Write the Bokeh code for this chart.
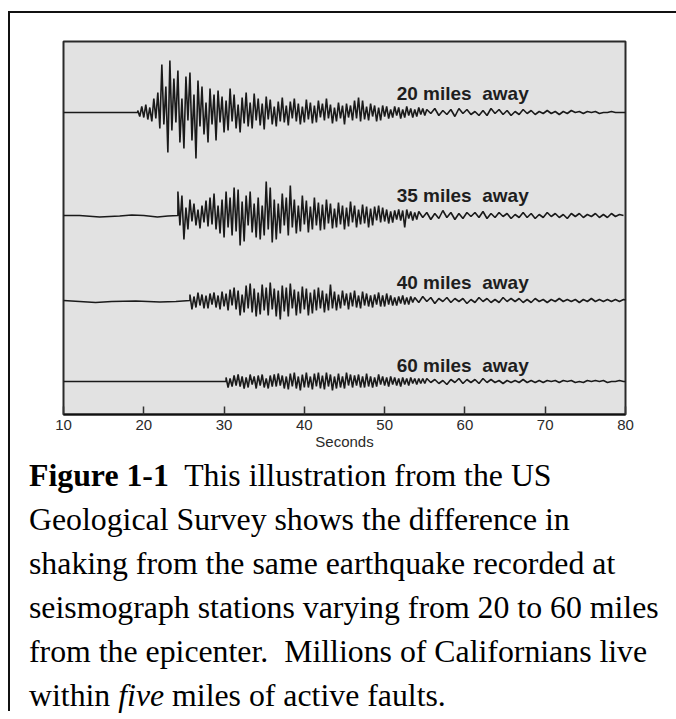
from bokeh.plotting import figure
from bokeh.models import Range1d, FixedTicker, Div
from bokeh.layouts import column
from bokeh.embed import file_html
from bokeh.resources import INLINE
from bokeh.core.properties import value

# ---------------- data ----------------
TICKS = [10, 20, 30, 40, 50, 60, 70, 80]
TICK_LABELS = ["10", "20", "30", "40", "50", "60", "70", "80"]
STATIONS = ["20 miles\u00a0 away", "35 miles\u00a0 away", "40 miles\u00a0 away", "60 miles\u00a0 away"]

# quiet part before the first arrival (seconds, amplitude)
PRE_T_20 = [10, 19.25]
PRE_V_20 = [0, 0]
PRE_T_35 = [10, 12, 14.5, 17, 18.5, 20, 21.7, 23, 24.25]
PRE_V_35 = [0, 0, -1.5, -0.5, 0.5, 0, -1.5, -0.5, 0]
PRE_T_40 = [10, 12, 14, 16, 19, 22, 24, 25.75]
PRE_V_40 = [0, -1, -2, -1, -0.5, -1.5, -1, 0]
PRE_T_60 = [10, 30.25]
PRE_V_60 = [0, 0]

# first arrival (seconds)
ONSET_20 = 19.25
ONSET_35 = 24.25
ONSET_40 = 25.75
ONSET_60 = 30.25

# strong shaking, one reading every 0.25 s
BURST_20 = [
    2, -4, 6, -5, 8, -7, 5, -9,
    14, -6, 20, -16, 48, -12, 26, -40,
    52, -18, 34, -10, 42, -30, 14, -36,
    36, -8, 40, -28, 18, -46, 32, -14,
    26, -22, 10, -30, 24, -12, 18, -28,
    22, -10, 16, -20, 12, -18, 24, -9,
    18, -16, 8, -20, 15, -11, 20, -14,
    10, -16, 19, -8, 14, -13, 9, -17,
    16, -7, 13, -12, 6, -14, 11, -9,
    15, -10, 7, -13, 11, -6, 14, -9,
    9, -12, 6, -10, 13, -7, 10, -11,
    7, -10, 12, -5, 9, -8, 14, -6,
    8, -11, 5, -9, 10, -6, 7, -12,
    9, -5, 7, -8, 12, -6, 15, -9,
    12, -7, 6, -8, 9, -4, 7, -9,
    5, -8, 7, -4, 6, -6, 3, -5,
    6, -3, 5, -6, 3, -5, 6, -3,
    4, -5, 3, -4, 5, -2, 4, -3,
]
BURST_35 = [
    24, -10, 20, -24, 8, -14, 16, -6,
    12, -10, 6, -13, 10, -7, 15, -11,
    18, -9, 22, -14, 10, -18, 16, -22,
    24, -12, 18, -20, 28, -16, 26, -30,
    14, -26, 20, -10, 24, -17, 12, -22,
    18, -24, 10, -20, 34, -14, 28, -27,
    16, -24, 12, -18, 22, -10, 18, -20,
    30, -12, 16, -18, 10, -16, 20, -9,
    15, -17, 9, -14, 18, -10, 13, -15,
    11, -14, 16, -8, 12, -13, 7, -12,
    13, -9, 10, -14, 8, -11, 14, -7,
    10, -12, 6, -9, 11, -8, 9, -12,
    7, -10, 9, -5, 10, -7, 8, -6,
    6, -8, 4, -7, 5, -4, 6, -5,
    5, -12, 6, -3, 4, -5, 3, -4,
]
BURST_40 = [
    6, -9, 4, -7, 8, -5, 6, -8,
    5, -8, 7, -4, 8, -7, 5, -9,
    9, -6, 7, -10, 11, -5, 13, -9,
    10, -15, 6, -12, 15, -8, 17, -12,
    12, -16, 8, -14, 16, -10, 13, -15,
    18, -9, 12, -16, 10, -19, 15, -11,
    13, -16, 17, -8, 11, -15, 9, -13,
    14, -9, 12, -15, 8, -13, 11, -10,
    13, -8, 10, -12, 7, -10, 16, -8,
    9, -10, 6, -8, 10, -5, 7, -9,
    8, -6, 10, -7, 5, -8, 9, -5,
    7, -6, 5, -7, 6, -4, 8, -6,
    5, -6, 7, -4, 5, -5, 3, -5,
    4, -3, 5, -4, 3, -4, 4, -2,
]
BURST_60 = [
    4, -6, 3, -5, 6, -4, 7, -5,
    5, -7, 4, -6, 7, -3, 5, -7,
    6, -4, 7, -6, 3, -7, 6, -5,
    7, -5, 8, -4, 6, -7, 5, -8,
    8, -5, 9, -7, 5, -9, 7, -6,
    9, -6, 5, -8, 8, -5, 9, -7,
    6, -8, 9, -5, 7, -9, 5, -7,
    8, -6, 5, -7, 9, -4, 7, -6,
    6, -4, 7, -6, 5, -6, 8, -5,
    5, -6, 4, -5, 7, -3, 5, -4,
    4, -5, 5, -3, 4, -4, 3, -5,
    4, -3, 3, -4, 4, -2, 3, -3,
    3, -2, 3, -2,
]

# weak tail, one reading every 0.5 s
CODA_20 = [
    3, -1, 4, -3, 2, -2, 3, -4, 4, -1,
    3, -2, 1, -3, 2, -3, 4, -1, 3, -2,
    2, -3, 1, -2, 3, -1, 2, -2, 1, -1,
    2, -1, 1, -2, 1, -1, 2, 0, 1, -1,
    1, 0, 1, -1, 0, 0, 1, 0, 0, 0, 0,
]
CODA_35 = [
    4, -2, 3, -4, 2, -3, 5, -2, 3, -4,
    2, -3, 3, -1, 3, -2, 4, -3, 2, -2,
    3, -1, 2, -3, 1, -2, 3, -2, 2, -3,
    1, -2, 3, -1, 2, -2, 1, -3, 2, -1,
    2, -2, 1, -1, 2, -2, 1, -2, 2, -1,
    1, 0,
]
CODA_40 = [
    3, -2, 4, -1, 3, -3, 2, -1, 3, -2,
    2, -1, 2, -3, 1, -2, 3, -1, 2, -2,
    1, -2, 3, -1, 2, -1, 2, -2, 1, -2,
    2, -1, 1, -2, 1, -1, 2, -1, 1, -1,
    1, -2, 1, -1, 2, -1, 1, -1, 1, -1,
    1, -1, 1, 0,
]
CODA_60 = [
    3, -1, 2, -2, 1, -3, 2, -1, 3, -2,
    2, -1, 2, -2, 3, -1, 2, -1, 1, -2,
    1, -1, 1, -1, 2, -1, 1, -1, 1, -1,
    1, 0, 1, -1, 1, 0, 1, -1, 0, -1,
    1, 0, 1, 0, 1, -1, 0, 0, 1, 0, 0,
]

CAPTION_TAG = "Figure 1-1"
CAPTION_LINE_1 = "This illustration from the US"
CAPTION_LINES = [
    "Geological Survey shows the difference in",
    "shaking from the same earthquake recorded at",
    "seismograph stations varying from 20 to 60 miles",
    "from the epicenter.&nbsp; Millions of Californians live",
]
CAPTION_LAST = ["within", "five", "miles of active faults."]

# ---------------- layout constants ----------------
BURST_DT = 0.25
CODA_DT = 0.5
BASELINES = [302, 199, 114, 33]      # vertical offsets of the four traces (px units)
LABEL_Y = [321, 219, 132, 49]
LABEL_X = 51.5


def trace(pre_t, pre_v, t0, burst, coda, base):
    xs = list(pre_t)
    ys = list(pre_v)
    for i, v in enumerate(burst):
        xs.append(t0 + i * BURST_DT)
        ys.append(v)
    tc = t0 + len(burst) * BURST_DT
    for i, v in enumerate(coda):
        xs.append(tc + i * CODA_DT)
        ys.append(v)
    return xs, [base + y for y in ys]


W = 660
p = figure(width=W, height=447, x_range=Range1d(10, 80), y_range=Range1d(0, 373),
           output_backend="svg", toolbar_location=None, y_axis_location=None,
           min_border_left=53, min_border_right=W - 615, min_border_top=28, min_border_bottom=46)
p.background_fill_color = "#e2e2e2"
p.border_fill_color = "white"
p.outline_line_color = "#2a2a2a"
p.outline_line_width = 2
p.xgrid.visible = False
p.ygrid.visible = False

ax = p.xaxis[0]
ax.ticker = FixedTicker(ticks=TICKS)
ax.major_label_overrides = {t: l for t, l in zip(TICKS, TICK_LABELS)}
ax.major_tick_in = 8
ax.major_tick_out = 0
ax.minor_tick_line_color = None
ax.axis_line_width = 2
ax.axis_line_color = "#111111"
ax.major_tick_line_color = "#333333"
ax.major_tick_line_width = 1.5
ax.major_label_text_font = "Liberation Sans"
ax.major_label_text_font_size = "15px"
ax.major_label_text_color = "#2a2a2a"
ax.major_label_standoff = 5
ax.axis_label = "Seconds"
ax.axis_label_text_font = "Liberation Sans"
ax.axis_label_text_font_size = "15px"
ax.axis_label_text_font_style = "normal"
ax.axis_label_text_color = "#2a2a2a"
ax.axis_label_standoff = 0

traces = [
    (PRE_T_20, PRE_V_20, ONSET_20, BURST_20, CODA_20),
    (PRE_T_35, PRE_V_35, ONSET_35, BURST_35, CODA_35),
    (PRE_T_40, PRE_V_40, ONSET_40, BURST_40, CODA_40),
    (PRE_T_60, PRE_V_60, ONSET_60, BURST_60, CODA_60),
]
for (pt, pv, t0, b, c), base in zip(traces, BASELINES):
    xs, ys = trace(pt, pv, t0, b, c, base)
    p.line(xs, ys, line_color="#1a1a1a", line_width=1.6)

p.text(x=[LABEL_X] * 4, y=LABEL_Y, text=STATIONS,
       text_font=value("Liberation Sans"), text_font_style="bold",
       text_font_size="19px", text_baseline="middle", text_align="left",
       text_color="#1e1e1e")

# ---------------- caption ----------------
caption_html = (
    f"<b>{CAPTION_TAG}</b>&nbsp; {CAPTION_LINE_1}<br>"
    + "<br>".join(CAPTION_LINES)
    + f"<br>{CAPTION_LAST[0]} <i>{CAPTION_LAST[1]}</i> {CAPTION_LAST[2]}"
)
cap = Div(text=caption_html, width=W, height=252,
          styles={"font-family": "'Liberation Serif', serif", "font-size": "31.8px",
                  "line-height": "44px", "color": "#000000", "white-space": "nowrap",
                  "padding-left": "14px", "margin-top": "-6px", "box-sizing": "border-box"})

layout = column(p, cap, styles={"border-left": "2px solid #111", "border-top": "2px solid #111",
                                "position": "relative", "top": "11px", "left": "8px"})

open("out.html", "w").write(file_html(layout, INLINE))
